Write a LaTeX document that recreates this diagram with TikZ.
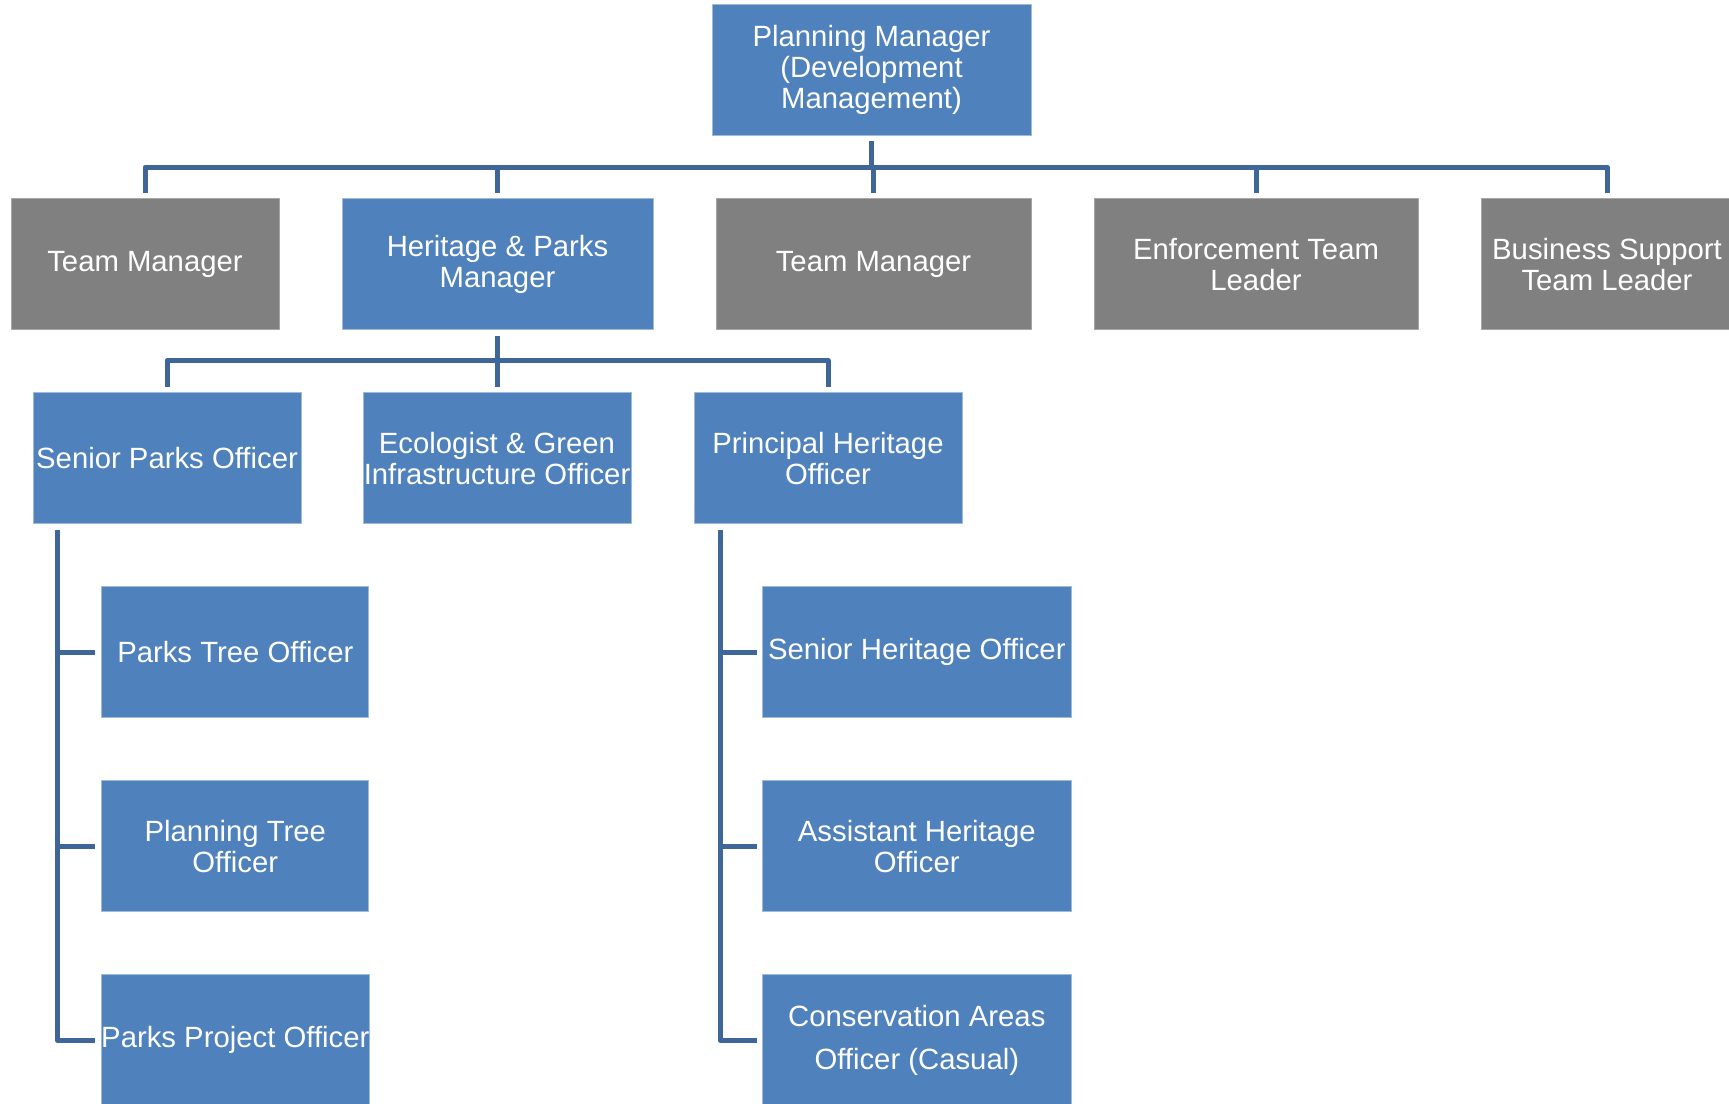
\documentclass[tikz,border=0pt]{standalone}
\usepackage{fontspec}
\setmainfont{Liberation Sans}
\definecolor{boxblue}{HTML}{4F81BD}
\definecolor{boxgray}{HTML}{808080}
\definecolor{linkblue}{HTML}{3F6699}
\begin{document}
\begin{tikzpicture}[x=1pt,y=-1pt,
  box/.style={rectangle, inner xsep=0pt, inner ysep=0pt, minimum height=131pt,
    text=white, align=center, font=\fontsize{29.3}{31}\selectfont},
  bluebox/.style={box, fill=boxblue, draw=boxblue!55!white, line width=0.8pt},
  graybox/.style={box, fill=boxgray, draw=boxgray!70!white, line width=0.8pt},
  link/.style={draw=linkblue, line width=5pt, line join=round}]
\useasboundingbox (0,0) rectangle (1729,1103);
\fill[white] (0,0) rectangle (1729,1103);

% top
\node[bluebox, minimum width=319pt] (pm) at (871.5,70) {Planning Manager\\(Development\\Management)};

% row 1
\node[graybox, minimum width=268pt] (tm1) at (145,264.2) {Team Manager};
\node[bluebox, minimum width=311pt] (hp) at (497.5,264.2) {Heritage \& Parks\\Manager};
\node[graybox, minimum width=315pt] (tm2) at (873.5,264.2) {Team Manager};
\node[graybox, minimum width=324pt] (enf) at (1256,264.2) {Enforcement Team\\Leader};
\node[graybox, minimum width=252pt] (bs) at (1607,264.2) {Business Support\\Team Leader};

% row 2
\node[bluebox, minimum width=268pt] (spo) at (167,458.2) {Senior Parks Officer};
\node[bluebox, minimum width=268pt] (eco) at (497,458.2) {Ecologist \& Green\\Infrastructure Officer};
\node[bluebox, minimum width=268pt] (pho) at (828,458.2) {Principal Heritage\\Officer};

% left children
\node[bluebox, minimum width=267pt] (pto) at (235.3,652.2) {Parks Tree Officer};
\node[bluebox, minimum width=267pt] (plto) at (235.3,846.2) {Planning Tree\\Officer};
\node[bluebox, minimum width=267pt] (ppo) at (235.3,1040.2) {Parks Project Officer};

% right children
\node[bluebox, minimum width=308.5pt] (sho) at (916.8,652.2) {Senior Heritage Officer};
\node[bluebox, minimum width=308.5pt] (aho) at (916.8,846.2) {Assistant Heritage\\Officer};
\node[bluebox, minimum width=308.5pt, font=\fontsize{29.3}{43}\selectfont] (cao) at (916.8,1040.2) {Conservation Areas\\Officer (Casual)};

% helper coordinates
\coordinate (bar1) at (0,167);
\coordinate (bar2) at (0,360.5);
\coordinate (lsp) at (57.5,0);
\coordinate (rsp) at (720,0);
\coordinate (spoS) at ([yshift=-5.5pt]spo.south);
\coordinate (phoS) at ([yshift=-5.5pt]pho.south);

% top connectors
\draw[link] ([yshift=-5.5pt]pm.south) -- (pm.south |- bar1);
\draw[link] ([yshift=5.5pt]tm1.north) -- (tm1.north |- bar1) -- (bs.north |- bar1) -- ([yshift=5.5pt]bs.north);
\draw[link] ([yshift=5.5pt]hp.north) -- (hp.north |- bar1);
\draw[link] ([yshift=5.5pt]tm2.north) -- (tm2.north |- bar1);
\draw[link] ([yshift=5.5pt]enf.north) -- (enf.north |- bar1);

% row 2 connectors
\draw[link] ([yshift=-5.5pt]hp.south) -- (hp.south |- bar2);
\draw[link] ([yshift=5.5pt]spo.north) -- (spo.north |- bar2) -- (pho.north |- bar2) -- ([yshift=5.5pt]pho.north);
\draw[link] ([yshift=5.5pt]eco.north) -- (eco.north |- bar2);

% left spine
\draw[link] (lsp |- spoS) -- (lsp |- ppo.west) -- ([xshift=-6pt]ppo.west);
\draw[link] (lsp |- pto.west) -- ([xshift=-6pt]pto.west);
\draw[link] (lsp |- plto.west) -- ([xshift=-6pt]plto.west);

% right spine
\draw[link] (rsp |- phoS) -- (rsp |- cao.west) -- ([xshift=-5pt]cao.west);
\draw[link] (rsp |- sho.west) -- ([xshift=-5pt]sho.west);
\draw[link] (rsp |- aho.west) -- ([xshift=-5pt]aho.west);
\end{tikzpicture}
\end{document}
